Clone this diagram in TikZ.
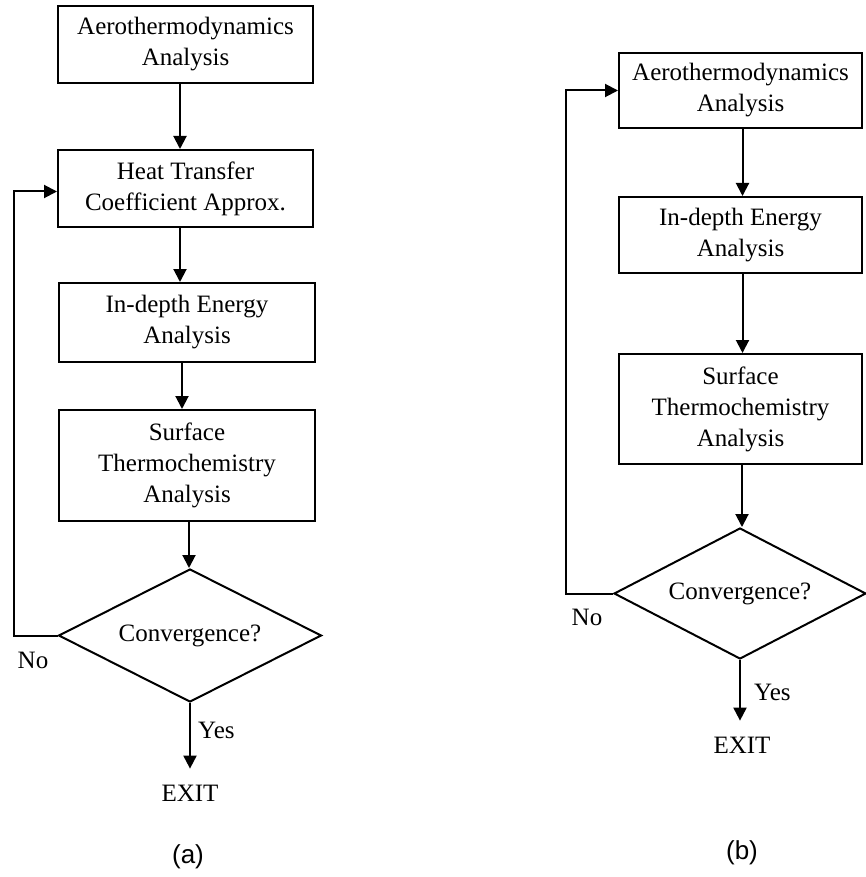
\documentclass[tikz,border=0pt]{standalone}
\usepackage{fontspec}
\setmainfont{Liberation Serif}
\newfontfamily\capfont{Liberation Sans}
\usetikzlibrary{arrows.meta,shapes.geometric}
\tikzset{
  txt/.style={font=\fontsize{25}{31}\selectfont, align=center},
  procbox/.style={txt, draw, line width=2pt, inner sep=0pt},
  decision/.style={txt, draw, line width=2pt, diamond, shape aspect=2, inner sep=0pt},
  arr/.style={line width=2pt, -{Triangle[width=13pt,length=13pt]}},
  caption/.style={font=\capfont\fontsize{26}{30}\selectfont}
}
\begin{document}
\begin{tikzpicture}[x=1pt,y=-1pt]
\useasboundingbox (0,0) rectangle (865,877);
% ---- (a) ----
\node[procbox, minimum width=255pt, minimum height=77pt] (a1) at (185.5,44.5) {Aerothermodynamics\\Analysis};
\node[procbox, minimum width=255pt, minimum height=77pt] (a2) at (185.5,188.5) {Heat Transfer\\Coefficient Approx.};
\node[procbox, minimum width=256pt, minimum height=79pt] (a3) at (187,322.5) {In-depth Energy\\Analysis};
\node[procbox, minimum width=256pt, minimum height=111pt] (a4) at (187,465.5) {Surface\\Thermochemistry\\Analysis};
\node[decision, minimum width=263pt, minimum height=133pt] (da) at (190,635.5) {Convergence?};
\node[txt, inner sep=0pt] (ea) at (190,793) {EXIT};
\node[txt, inner sep=0pt] (noa) at (33,660) {No};
\node[txt, inner sep=0pt, anchor=west] (yesa) at (198,730) {Yes};
\node[caption, inner sep=0pt] (capa) at (188,857) {(a)};
\coordinate (fa) at (14,635.5);
\draw[arr] ([xshift=-5.5pt]a1.south) -- ([xshift=-5.5pt]a1.south |- a2.north);
\draw[arr] ([xshift=-5.5pt]a2.south) -- ([xshift=-5.5pt]a2.south |- a3.north);
\draw[arr] ([xshift=-5pt]a3.south) -- ([xshift=-5pt]a3.south |- a4.north);
\draw[arr] ([xshift=2pt]a4.south) -- ([xshift=2pt]a4.south |- da.north);
\draw[arr] (da.south) -- ([yshift=16pt]ea.north -| da.south);
\draw[arr] (da.west) -- (fa) |- ([yshift=-3pt]a2.west);
% ---- (b) ----
\node[procbox, minimum width=243pt, minimum height=75pt] (b1) at (740.5,90.5) {Aerothermodynamics\\Analysis};
\node[procbox, minimum width=243pt, minimum height=76pt] (b2) at (740.5,235) {In-depth Energy\\Analysis};
\node[procbox, minimum width=243pt, minimum height=110pt] (b3) at (740.5,409) {Surface\\Thermochemistry\\Analysis};
\node[decision, minimum width=252pt, minimum height=131pt] (db) at (740,593.5) {Convergence?};
\node[txt, inner sep=0pt] (eb) at (742,745) {EXIT};
\node[txt, inner sep=0pt] (nob) at (587,617) {No};
\node[txt, inner sep=0pt, anchor=west] (yesb) at (754,692) {Yes};
\node[caption, inner sep=0pt] (capb) at (742,853) {(b)};
\coordinate (fb) at (566,593.5);
\draw[arr] ([xshift=2pt]b1.south) -- ([xshift=2pt]b1.south |- b2.north);
\draw[arr] ([xshift=2pt]b2.south) -- ([xshift=2pt]b2.south |- b3.north);
\draw[arr] ([xshift=1.5pt]b3.south) -- ([xshift=1.5pt]b3.south |- db.north);
\draw[arr] (db.south) -- ([yshift=16pt]eb.north -| db.south);
\draw[arr] (db.west) -- (fb) |- (b1.west);
\end{tikzpicture}
\end{document}
